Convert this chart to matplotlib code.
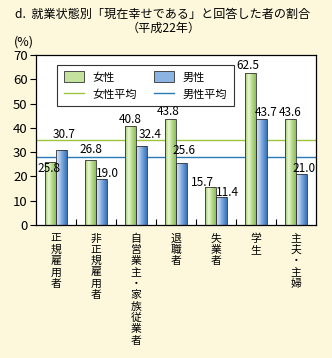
import numpy as np
import matplotlib.pyplot as plt
from matplotlib.colors import LinearSegmentedColormap
from matplotlib.lines import Line2D
from matplotlib.patches import Patch

plt.rcParams['font.family'] = ['Noto Sans CJK JP', 'DejaVu Sans']

# data
categories = ['正規雇用者', '非正規雇用者', '自営業主・家族従業者', '退職者', '失業者', '学生', '主夫・主婦']
female = [25.8, 26.8, 40.8, 43.8, 15.7, 62.5, 43.6]
male = [30.7, 19.0, 32.4, 25.6, 11.4, 43.7, 21.0]
female_avg = 34.8
male_avg = 28.0

# label placement tweaks (dx in points, y in data units)
f_lbl = [(-1, 23.4), (0, 31.1), (0, 43.4), (-2, 46.7), (-6, 17.6), (-2, 65.6), (0, 46.3)]
m_lbl = [(2, 37.3), (4, 21.3), (6, 37.3), (2, 30.7), (4, 13.5), (3, 46.3), (2, 23.4)]

bg = '#fdf8dc'
fig = plt.figure(figsize=(3.32, 3.58), dpi=100, facecolor=bg)
ax = fig.add_axes([36/332, 1-225/358, 280/332, 170/358])
ax.set_facecolor('white')

green_cm = LinearSegmentedColormap.from_list('g', ['#9ccc6a', '#eaf6d2', '#b4d98a', '#8cc05a'])
blue_cm = LinearSegmentedColormap.from_list('b', ['#dce9f7', '#a6c6ea', '#6a9ad4', '#3a72b8'])
grad = np.linspace(0, 1, 64).reshape(1, -1)

x = np.arange(len(categories))
w = 0.275
bf = ax.bar(x - w/2, female, w, facecolor='none', edgecolor='#333333', lw=0.6, zorder=3)
bm = ax.bar(x + w/2, male, w, facecolor='none', edgecolor='#333333', lw=0.6, zorder=3)
for bars, cm in ((bf, green_cm), (bm, blue_cm)):
    for b in bars:
        x0, y0 = b.get_x(), b.get_y()
        im = ax.imshow(grad, extent=[x0, x0 + b.get_width(), y0, y0 + b.get_height()],
                       aspect='auto', cmap=cm, zorder=2)
        im.set_clip_path(b)

ax.axhline(female_avg, color='#9dc43c', lw=1.0, zorder=1)
ax.axhline(male_avg, color='#2a7ab8', lw=1.0, zorder=1)

for i in range(len(categories)):
    ax.annotate(f'{female[i]:.1f}', (x[i] - w/2, f_lbl[i][1]), xytext=(f_lbl[i][0], 0),
                textcoords='offset points', ha='center', va='center', fontsize=8.5, zorder=5)
    ax.annotate(f'{male[i]:.1f}', (x[i] + w/2, m_lbl[i][1]), xytext=(m_lbl[i][0], 0),
                textcoords='offset points', ha='center', va='center', fontsize=8.5, zorder=5)

ax.set_xlim(-0.5, len(categories) - 0.5)
ax.set_ylim(0, 70)
ax.set_yticks(range(0, 71, 10))
ax.tick_params(axis='y', labelsize=9.5, length=4, width=0.8, pad=2)
ax.set_xticks(x)
ax.set_xticklabels([])
ax.tick_params(axis='x', length=0)
ax.set_xticks(np.arange(0.5, len(categories) - 1, 1), minor=True)
ax.tick_params(axis='x', which='minor', direction='in', length=4, width=0.8)
for s in ax.spines.values():
    s.set_linewidth(0.9)

# vertical category labels, one character per line
pitch = 8.2  # points
for i, cat in enumerate(categories):
    for j, ch in enumerate(cat):
        ax.annotate(ch, (x[i], 0), xycoords=('data', 'axes fraction'),
                    xytext=(0, -6 - j * pitch), textcoords='offset points',
                    ha='center', va='top', fontsize=7.8, annotation_clip=False)

handles = [Patch(facecolor='#c4e29e', edgecolor='#333333', lw=0.6),
           Line2D([], [], color='#9dc43c', lw=1.0),
           Patch(facecolor='#8cb4e2', edgecolor='#333333', lw=0.6),
           Line2D([], [], color='#2a7ab8', lw=1.0)]
leg = ax.legend(handles, ['女性', '女性平均', '男性', '男性平均'], ncol=2, fontsize=8,
                loc='upper left', bbox_to_anchor=(0.055, 0.975), frameon=True, fancybox=False,
                edgecolor='black', handlelength=1.8, handleheight=1.1, columnspacing=1.5,
                borderpad=0.6, labelspacing=0.55)
leg.get_frame().set_linewidth(0.8)
leg.set_zorder(6)

fig.text(15/332, 1-14/358, 'd.  就業状態別「現在幸せである」と回答した者の割合', fontsize=8.7, va='center', ha='left')
fig.text(164/332, 1-28/358, '（平成22年）', fontsize=8.7, va='center', ha='center')
fig.text(24/332, 1-42/358, '(%)', fontsize=9, va='center', ha='center')

plt.savefig('out.png', dpi=100, facecolor=bg)
